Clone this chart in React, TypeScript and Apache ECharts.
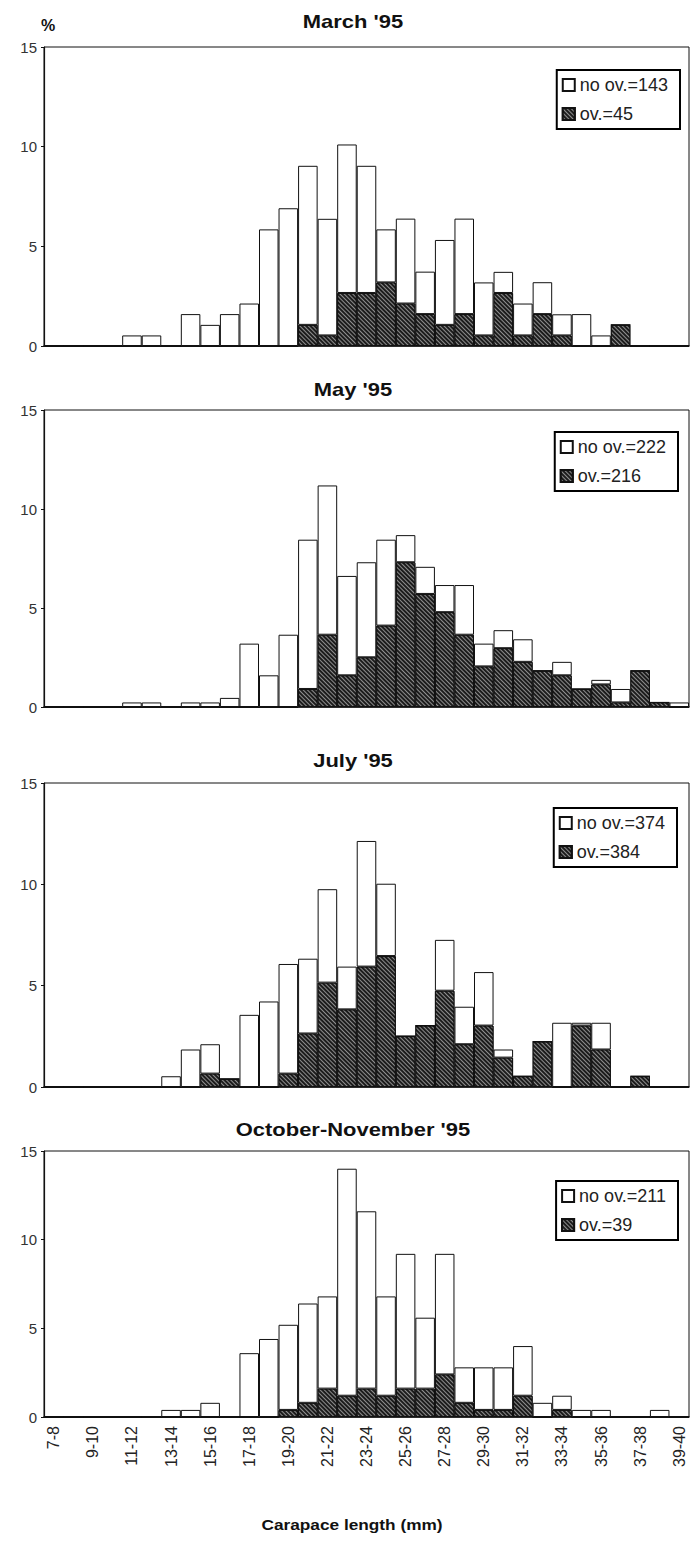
import React, { useEffect, useRef } from "react";
import * as echarts from "echarts";

const categories = [
  "7-8", "8-9", "9-10", "10-11", "11-12", "12-13", "13-14", "14-15", "15-16", "16-17",
  "17-18", "18-19", "19-20", "20-21", "21-22", "22-23", "23-24", "24-25", "25-26", "26-27",
  "27-28", "28-29", "29-30", "30-31", "31-32", "32-33", "33-34", "34-35", "35-36", "36-37",
  "37-38", "38-39", "39-40",
];

const yTicks = [0, 5, 10, 15];

const panelTitles = ["March '95", "May '95", "July '95", "October-November '95"];
const noOvNames = ["no ov.=143", "no ov.=222", "no ov.=374", "no ov.=211"];
const ovNames = ["ov.=45", "ov.=216", "ov.=384", "ov.=39"];

// March '95 (% of total)
const marchOv = [0, 0, 0, 0, 0, 0, 0, 0, 0, 0, 0, 0, 0, 1.06, 0.53, 2.66, 2.66, 3.19, 2.13, 1.6, 1.06, 1.6, 0.53, 2.66, 0.53, 1.6, 0.53, 0, 0, 1.06, 0, 0, 0];
const marchNoOv = [0, 0, 0, 0, 0.53, 0.53, 0, 1.6, 1.06, 1.6, 2.13, 5.85, 6.91, 7.98, 5.85, 7.45, 6.38, 2.66, 4.26, 2.13, 4.26, 4.79, 2.66, 1.06, 1.6, 1.6, 1.06, 1.6, 0.53, 0, 0, 0, 0];

// May '95
const mayOv = [0, 0, 0, 0, 0, 0, 0, 0, 0, 0, 0, 0, 0, 0.91, 3.65, 1.6, 2.51, 4.11, 7.31, 5.71, 4.79, 3.65, 2.05, 2.97, 2.28, 1.83, 1.6, 0.91, 1.14, 0.23, 1.83, 0.23, 0];
const mayNoOv = [0, 0, 0, 0, 0.23, 0.23, 0, 0.23, 0.23, 0.46, 3.2, 1.6, 3.65, 7.54, 7.54, 5.02, 4.8, 4.34, 1.37, 1.37, 1.37, 2.51, 1.15, 0.91, 1.14, 0, 0.68, 0, 0.23, 0.68, 0, 0, 0.23];

// July '95
const julyOv = [0, 0, 0, 0, 0, 0, 0, 0, 0.66, 0.4, 0, 0, 0.66, 2.64, 5.15, 3.83, 5.94, 6.46, 2.51, 3.03, 4.75, 2.11, 3.03, 1.45, 0.53, 2.24, 0, 3.03, 1.85, 0, 0.53, 0, 0];
const julyNoOv = [0, 0, 0, 0, 0, 0, 0.53, 1.85, 1.45, 0, 3.56, 4.22, 5.41, 3.69, 4.61, 2.11, 6.2, 3.57, 0, 0, 2.51, 1.85, 2.64, 0.4, 0, 0, 3.17, 0.14, 1.32, 0, 0, 0, 0];

// October-November '95
const octOv = [0, 0, 0, 0, 0, 0, 0, 0, 0, 0, 0, 0, 0.4, 0.8, 1.6, 1.2, 1.6, 1.2, 1.6, 1.6, 2.4, 0.8, 0.4, 0.4, 1.2, 0, 0.4, 0, 0, 0, 0, 0, 0];
const octNoOv = [0, 0, 0, 0, 0, 0, 0.4, 0.4, 0.8, 0, 3.6, 4.4, 4.8, 5.6, 5.2, 12.8, 10, 5.6, 7.6, 4, 6.8, 2, 2.4, 2.4, 2.8, 0.8, 0.8, 0.4, 0.4, 0, 0, 0.4, 0];

const ovData = [marchOv, mayOv, julyOv, octOv];
const noOvData = [marchNoOv, mayNoOv, julyNoOv, octNoOv];

// layout (px)
const gridTops = [47, 410, 783, 1151];
const gridHeights = [299, 297, 304, 266];
const titleYs = [22, 390, 761, 1130];
const legendTops = [70, 432, 808, 1181];
const legendRights = [12, 14, 15, 14];

const FONT = '"Liberation Sans", Arial, Helvetica, sans-serif';

export default function App() {
  const ref = useRef<HTMLDivElement>(null);

  useEffect(() => {
    document.body.style.margin = "0";
    if (!ref.current) return;
    const chart = echarts.init(ref.current, undefined, { renderer: "svg" });

    const hatch = {
      symbol: "rect",
      symbolSize: 1,
      color: "rgba(255,255,255,0.5)",
      dashArrayX: [1, 0],
      dashArrayY: [1, 2],
      rotation: Math.PI / 4,
    };

    const grids = gridTops.map((t, i) => ({
      left: 44,
      top: t,
      width: 645,
      height: gridHeights[i],
      show: true,
      borderColor: "#111",
      borderWidth: 1,
      backgroundColor: "transparent",
    }));

    const xAxes = gridTops.map((_, i) => ({
      type: "category",
      gridIndex: i,
      data: categories,
      axisLine: { lineStyle: { color: "#111", width: 1.5 } },
      axisTick: { show: false },
      axisLabel: {
        show: i === 3,
        interval: 1,
        rotate: 90,
        fontSize: 16,
        fontFamily: FONT,
        color: "#222",
        margin: 9,
      },
      splitLine: { show: false },
    }));

    const yAxes = gridTops.map((_, i) => ({
      type: "value",
      gridIndex: i,
      min: yTicks[0],
      max: yTicks[yTicks.length - 1],
      interval: 5,
      axisLine: { show: true, lineStyle: { color: "#111", width: 1.2 } },
      axisTick: { show: true, length: 3, lineStyle: { color: "#111" } },
      axisLabel: { fontSize: 15, fontFamily: FONT, color: "#333", margin: 7 },
      splitLine: { show: false },
    }));

    const series: any[] = [];
    gridTops.forEach((_, i) => {
      series.push({
        name: ovNames[i],
        type: "bar",
        xAxisIndex: i,
        yAxisIndex: i,
        stack: "s" + i,
        barWidth: "100%",
        barCategoryGap: 0,
        data: ovData[i],
        itemStyle: {
          color: "#1c1c1c",
          borderColor: "#111",
          borderWidth: 1,
          decal: hatch,
        },
      });
      series.push({
        name: noOvNames[i],
        type: "bar",
        xAxisIndex: i,
        yAxisIndex: i,
        stack: "s" + i,
        barWidth: "100%",
        barCategoryGap: 0,
        data: noOvData[i],
        itemStyle: { color: "#fff", borderColor: "#111", borderWidth: 1 },
      });
    });

    const legends = gridTops.map((_, i) => ({
      data: [noOvNames[i], ovNames[i]],
      orient: "vertical",
      right: legendRights[i],
      top: legendTops[i],
      icon: "rect",
      itemWidth: 12,
      itemHeight: 12,
      itemGap: 11,
      padding: [6, 12, 6, 5],
      borderColor: "#000",
      borderWidth: 2,
      backgroundColor: "#fff",
      selectedMode: false,
      textStyle: { fontSize: 18, fontFamily: FONT, color: "#222" },
    }));

    const graphics: any[] = panelTitles.map((t, i) => ({
      type: "text",
      x: 353,
      y: titleYs[i],
      scaleX: 1.22,
      style: {
        text: t,
        font: `bold 18px ${FONT}`,
        textAlign: "center",
        textVerticalAlign: "middle",
        fill: "#111",
      },
    }));
    graphics.push({
      type: "text",
      x: 48,
      y: 25,
      style: {
        text: "%",
        font: `bold 16px ${FONT}`,
        textAlign: "center",
        textVerticalAlign: "middle",
        fill: "#111",
      },
    });
    graphics.push({
      type: "text",
      x: 352,
      y: 1524,
      scaleX: 1.15,
      style: {
        text: "Carapace length (mm)",
        font: `bold 15px ${FONT}`,
        textAlign: "center",
        textVerticalAlign: "middle",
        fill: "#111",
      },
    });

    chart.setOption({
      animation: false,
      backgroundColor: "#fff",
      grid: grids,
      xAxis: xAxes,
      yAxis: yAxes,
      legend: legends,
      series,
      graphic: graphics,
    });

    return () => chart.dispose();
  }, []);

  return <div ref={ref} style={{ width: 692, height: 1547 }} />;
}
